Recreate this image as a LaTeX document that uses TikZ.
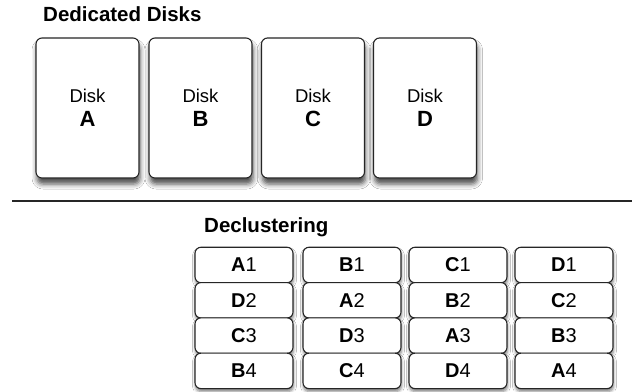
\documentclass[tikz,border=0pt]{standalone}
\usepackage{fontspec}
\setmainfont{Liberation Sans}
\usetikzlibrary{shadows.blur}
\begin{document}
\begin{tikzpicture}[x=1pt,y=-1pt,
  diskbox/.style={draw=black!85, line width=1.1pt, rounded corners=6pt, fill=white,
    minimum width=103pt, minimum height=140pt, align=center, inner sep=0pt,
    blur shadow={shadow xshift=1pt, shadow yshift=-6pt, shadow blur radius=5pt, shadow opacity=70},
    font=\fontsize{18.5}{24.5}\selectfont},
  cellbox/.style={draw=black!85, line width=1.1pt, rounded corners=6pt, fill=white,
    minimum width=98pt, minimum height=35.5pt, inner sep=0pt,
    blur shadow={shadow xshift=0.5pt, shadow yshift=-3pt, shadow blur radius=3pt, shadow opacity=50},
    font=\fontsize{20}{20}\selectfont},
  titletext/.style={font=\bfseries\fontsize{20.5}{22}\selectfont, anchor=base west, inner sep=0pt}]
\useasboundingbox (0,0) rectangle (632,391);
\fill[white] (0,0) rectangle (632,391);

\node[titletext] (t1) at (43,21) {Dedicated Disks};

\node[diskbox] (dA) at (87.5,108)  {Disk\\{\fontsize{22}{24.5}\selectfont\bfseries A}};
\node[diskbox] (dB) at (200.5,108) {Disk\\{\fontsize{22}{24.5}\selectfont\bfseries B}};
\node[diskbox] (dC) at (313,108)   {Disk\\{\fontsize{22}{24.5}\selectfont\bfseries C}};
\node[diskbox] (dD) at (425,108)   {Disk\\{\fontsize{22}{24.5}\selectfont\bfseries D}};

\coordinate (ls) at (12,201);
\coordinate (le) at (632,201);
\draw[line width=1.3pt, black!85] (ls) -- (le);

\node[titletext] (t2) at (204,232) {Declustering};

% row 1
\node[cellbox] (c11) at (244,265)   {\textbf{A}1};
\node[cellbox] (c12) at (352,265)   {\textbf{B}1};
\node[cellbox] (c13) at (458,265)   {\textbf{C}1};
\node[cellbox] (c14) at (564,265)   {\textbf{D}1};
% row 2
\node[cellbox] (c21) at (244,300.3) {\textbf{D}2};
\node[cellbox] (c22) at (352,300.3) {\textbf{A}2};
\node[cellbox] (c23) at (458,300.3) {\textbf{B}2};
\node[cellbox] (c24) at (564,300.3) {\textbf{C}2};
% row 3
\node[cellbox] (c31) at (244,335.6) {\textbf{C}3};
\node[cellbox] (c32) at (352,335.6) {\textbf{D}3};
\node[cellbox] (c33) at (458,335.6) {\textbf{A}3};
\node[cellbox] (c34) at (564,335.6) {\textbf{B}3};
% row 4
\node[cellbox] (c41) at (244,370.9) {\textbf{B}4};
\node[cellbox] (c42) at (352,370.9) {\textbf{C}4};
\node[cellbox] (c43) at (458,370.9) {\textbf{D}4};
\node[cellbox] (c44) at (564,370.9) {\textbf{A}4};
\end{tikzpicture}
\end{document}
